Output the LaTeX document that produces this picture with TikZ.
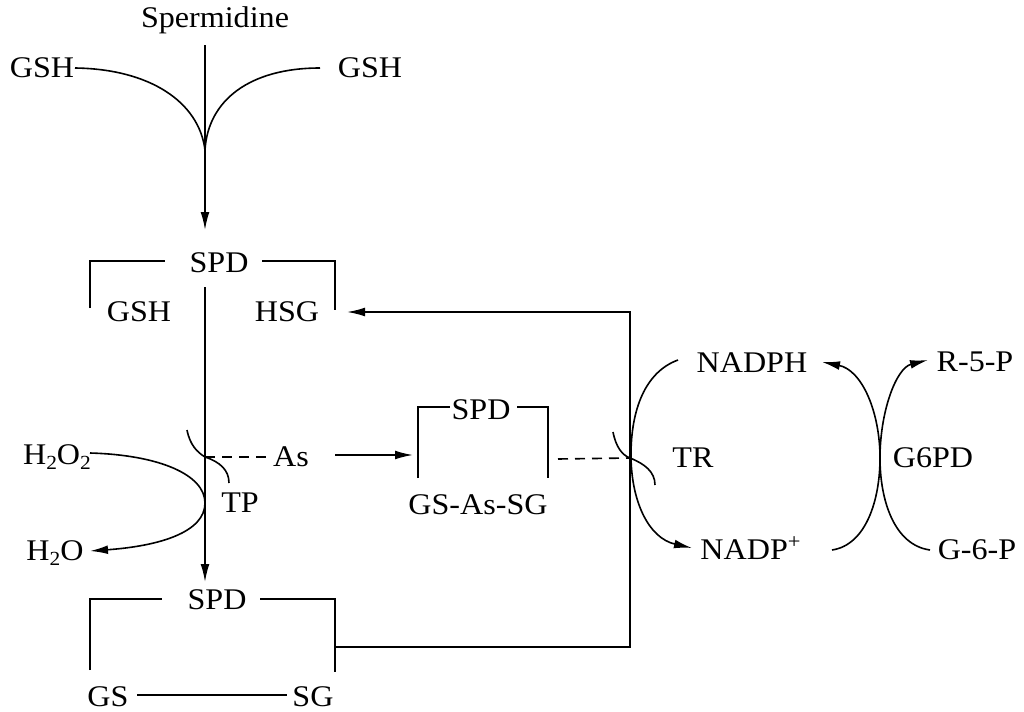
\documentclass[tikz,border=0pt]{standalone}
\usepackage{fontspec}
\setmainfont[FakeStretch=1.07]{Liberation Serif}
\usetikzlibrary{arrows.meta}
\newcommand{\mysub}[1]{\raisebox{-0.35ex}{\fontsize{10pt}{12pt}\selectfont #1}}
\begin{document}
\begin{tikzpicture}[x=0.5pt,y=-0.5pt,
  lbl/.style={inner sep=0pt,font=\fontsize{15pt}{18pt}\selectfont},
  ln/.style={line width=0.8pt},
  arr/.style={ln,-{Latex[length=9pt,width=4.4pt]}},
  dsh/.style={ln,dash pattern=on 5pt off 3.5pt}]
\useasboundingbox (0,0) rectangle (1024,712);
% texts
\node[lbl] (sperm) at (215,20) {Spermidine};
\node[lbl] (gshL) at (42,68) {GSH};
\node[lbl] (gshR) at (370,68) {GSH};
\node[lbl] (spd1) at (219,263) {SPD};
\node[lbl] (gsh1) at (139,312) {GSH};
\node[lbl] (hsg1) at (287,312) {HSG};
\node[lbl] (h2o2) at (57,457) {H\mysub{2}O\mysub{2}};
\node[lbl] (h2o) at (55,553) {H\mysub{2}O};
\node[lbl] (tp) at (240,503) {TP};
\node[lbl] (as) at (291,457) {As};
\node[lbl] (spd2) at (481,410) {SPD};
\node[lbl] (gsasg) at (478,505) {GS-As-SG};
\node[lbl] (tr) at (693,458) {TR};
\node[lbl] (nadph) at (752,363) {NADPH};
\node[lbl] (nadp) at (751,548) {NADP\textsuperscript{+}};
\node[lbl] (g6pd) at (933,458) {G6PD};
\node[lbl] (r5p) at (975,362) {R-5-P};
\node[lbl] (g6p) at (977,550) {G-6-P};
\node[lbl] (spd3) at (217,600) {SPD};
\node[lbl] (gs) at (108,697) {GS};
\node[lbl] (sg) at (313,697) {SG};
% key coordinates
\coordinate (vtop) at (205,45);
\coordinate (cusp) at (205,150);
\coordinate (v1top) at (205,287);
\coordinate (v1bot) at (205,582);
\coordinate (tpx) at (205,457);
\coordinate (trx) at (630,458);
\coordinate (rtop) at (630,312);
\coordinate (rbot) at (630,647);
\coordinate (sgc) at (335,647);
\coordinate (g6x) at (880,458);
% Spermidine + GSH
\draw[arr] (vtop) -- (205,230);
\draw[ln] (75,68) .. controls (150,69) and (199,102) .. (cusp);
\draw[ln] (320,68) .. controls (250,68) and (208,100) .. (cusp);
% top SPD bracket
\draw[ln] (90,308) -- (90,261) -- (165,261);
\draw[ln] (262,261) -- (335,261) -- (335,310);
% main vertical
\draw[arr] (v1top) -- (v1bot);
% TP enzyme
\draw[ln] (187,430) .. controls (190,445) and (197,452) .. (tpx) .. controls (220,462) and (229,470) .. (229,483);
\draw[dsh] (tpx) -- (as.west);
\draw[arr] (90,453) .. controls (160,455) and (205,475) .. (205,503) .. controls (205,532) and (160,546) .. (90,551);
% As -> GS-As-SG
\draw[arr] (335,455) -- (413,455);
\draw[ln] (418,478) -- (418,407) -- (450,407);
\draw[ln] (517,407) -- (548,407) -- (548,478);
\draw[dsh] (558,459) -- (trx);
% TR enzyme
\draw[ln] (613,432) .. controls (616,447) and (622,455) .. (trx) .. controls (645,464) and (655,472) .. (655,485);
\draw[arr] (678,360) .. controls (645,372) and (631,410) .. (631,455) .. controls (631,500) and (648,538) .. (692,548);
% G6PD
\draw[arr] (832,550) .. controls (866,545) and (880,500) .. (g6x) .. controls (880,412) and (862,370) .. (822,362);
\draw[arr] (930,550) .. controls (894,545) and (880,500) .. (g6x) .. controls (880,412) and (896,368) .. (928,360);
% bottom SPD bracket
\draw[ln] (90,670) -- (90,599) -- (162,599);
\draw[ln] (260,599) -- (335,599) -- (335,672);
\draw[ln] (137,695) -- (287,695);
% return path
\draw[arr] (sgc) -- (rbot) -- (rtop) -- (347,312);
\end{tikzpicture}
\end{document}
